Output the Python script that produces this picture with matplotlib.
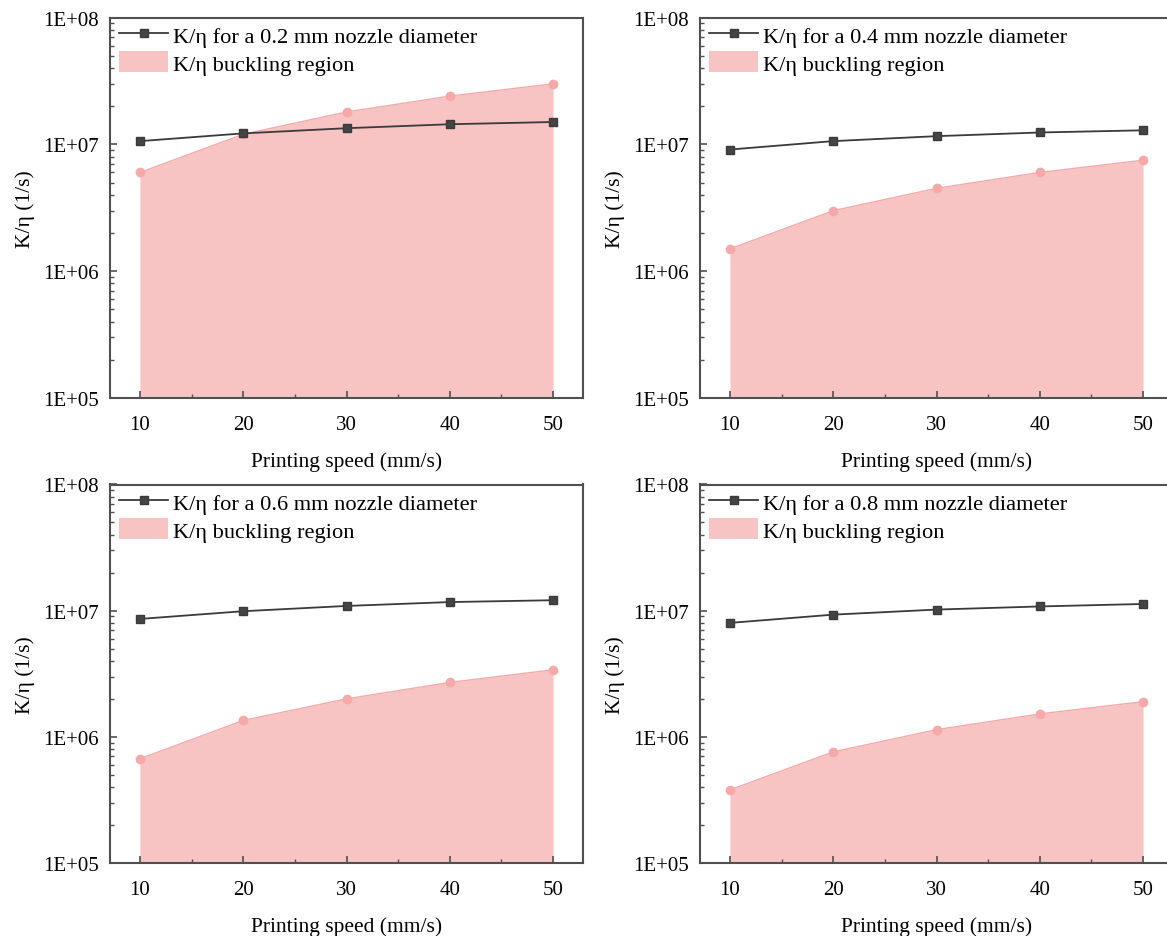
import math
import matplotlib
matplotlib.use("Agg")
import matplotlib.pyplot as plt
import matplotlib.ticker as mticker
from matplotlib.patches import Patch
from matplotlib.lines import Line2D

plt.rcParams['font.family'] = ['Liberation Serif', 'DejaVu Serif']

# printing speed (mm/s)
speed = [10, 20, 30, 40, 50]

# K/eta for each nozzle diameter (1/s)
nozzles = ["0.2", "0.4", "0.6", "0.8"]
k_02 = [1.06e7, 1.22e7, 1.34e7, 1.44e7, 1.50e7]
k_04 = [9.1e6, 1.06e7, 1.16e7, 1.24e7, 1.29e7]
k_06 = [8.6e6, 9.9e6, 1.09e7, 1.17e7, 1.21e7]
k_08 = [8.0e6, 9.3e6, 1.02e7, 1.08e7, 1.13e7]

# buckling region upper bound (1/s)
buck_02 = [6.0e6, 1.2e7, 1.8e7, 2.4e7, 3.0e7]
buck_04 = [1.5e6, 3.0e6, 4.5e6, 6.0e6, 7.5e6]
buck_06 = [6.7e5, 1.35e6, 2.0e6, 2.7e6, 3.4e6]
buck_08 = [3.8e5, 7.6e5, 1.14e6, 1.52e6, 1.9e6]

k_all = [k_02, k_04, k_06, k_08]
buck_all = [buck_02, buck_04, buck_06, buck_08]

fig = plt.figure(figsize=(11.67, 9.37), dpi=100)

W, H = 1167, 937
# axes boxes in pixels: left, top, right, bottom
boxes = [(110, 18.5, 583, 399), (700, 18.5, 1173, 399),
         (110, 485.5, 583, 864), (700, 485.5, 1173, 864)]

fill_col = '#f8c3c3'
pt_col = '#f6a9a9'
line_col = '#3a3a3a'
spine_col = '#505050'


def sci_label(v, pos):
    return "1E+%02d" % round(math.log10(v))


for i in range(4):
    l, t, r, b = boxes[i]
    ax = fig.add_axes([l / W, 1 - b / H, (r - l) / W, (b - t) / H])

    ax.fill_between(speed, 1e5, buck_all[i], color=fill_col, lw=0, zorder=1)
    ax.plot(speed, buck_all[i], color=pt_col, lw=1.0, marker='o', ms=6,
            mec=pt_col, mfc=pt_col, zorder=2)
    ax.plot(speed, k_all[i], color=line_col, lw=1.3, marker='s', ms=6,
            mec=line_col, mfc='#444444', zorder=3)

    ax.set_yscale('log')
    ax.set_ylim(1e5, 1e8)
    ax.set_xlim(7.1, 52.9)
    ax.set_xticks(speed)
    ax.xaxis.set_minor_locator(mticker.MultipleLocator(5))
    ax.yaxis.set_major_locator(mticker.FixedLocator([1e5, 1e6, 1e7, 1e8]))
    ax.yaxis.set_major_formatter(mticker.FuncFormatter(sci_label))
    ax.yaxis.set_minor_locator(mticker.LogLocator(base=10, subs=range(2, 10)))
    ax.yaxis.set_minor_formatter(mticker.NullFormatter())

    ax.tick_params(which='major', direction='in', length=5, width=1.2,
                   color=spine_col, labelsize=15)
    ax.tick_params(axis='y', which='major', pad=8)
    ax.tick_params(axis='x', which='major', pad=12)
    ax.tick_params(which='minor', direction='in', length=3, width=1.0,
                   color=spine_col)
    for s in ax.spines.values():
        s.set_color(spine_col)
        s.set_linewidth(1.5)

    ax.set_xlabel("Printing speed (mm/s)", fontsize=15.5, labelpad=13)
    ax.set_ylabel("K/η (1/s)", fontsize=15.5, labelpad=6)

    handles = [Line2D([], [], color=line_col, lw=1.3, marker='s', ms=6,
                      mfc='#444444', mec=line_col),
               Patch(facecolor=fill_col, edgecolor='none')]
    labels = ["K/η for a %s mm nozzle diameter" % nozzles[i],
              "K/η buckling region"]
    ax.legend(handles, labels, loc='upper left', frameon=False,
              bbox_to_anchor=(0.0095, 0.994),
              fontsize=16.1, handlelength=2.2, handleheight=1.07,
              borderaxespad=0, borderpad=0.2, labelspacing=0.18,
              handletextpad=0.22)

fig.savefig("out.png", dpi=100)
